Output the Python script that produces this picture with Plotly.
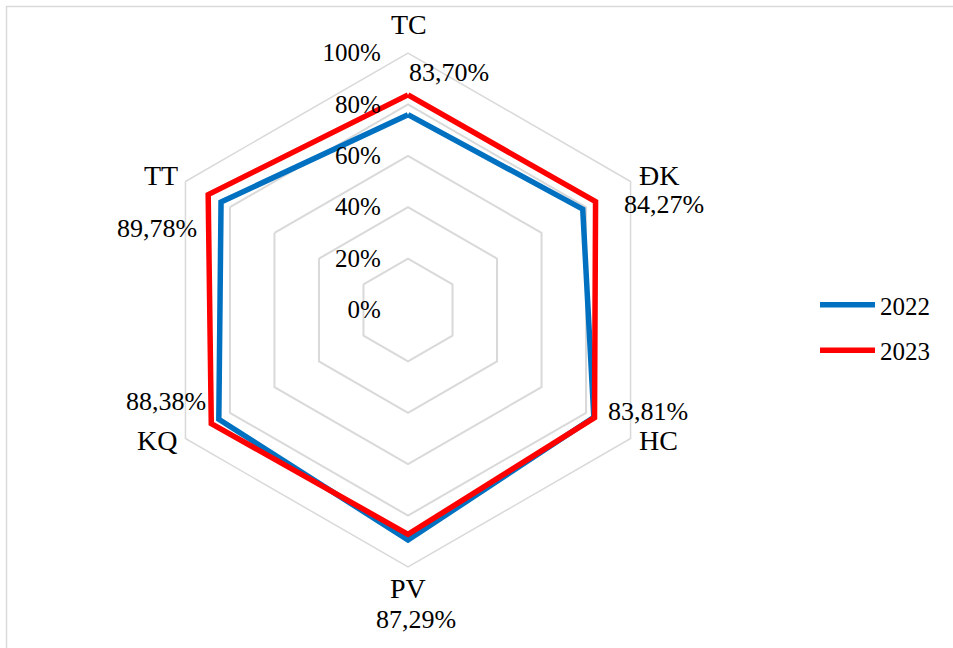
import plotly.graph_objects as go

# Criteria on the radar axes (clockwise from the top)
categories = ["TC", "ĐK", "HC", "PV", "KQ", "TT"]

# Share of the criterion reached in each year
values_2022 = [0.760, 0.785, 0.835, 0.895, 0.850, 0.840]
values_2023 = [0.8370, 0.8427, 0.8381, 0.8729, 0.8838, 0.8978]

series_names = ["2022", "2023"]
series_colors = ["#0070C0", "#FF0000"]

# Radial scale
radial_tickvals = [0, 0.2, 0.4, 0.6, 0.8, 1.0]
radial_ticktext = ["0%", "20%", "40%", "60%", "80%", "100%"]

W, H = 953, 648
FONT = "Times New Roman"
GRID = "#D9D9D9"


def px_x(x):
    return x / W


def px_y(y):
    return 1 - y / H


def pct(v):
    return f"{v * 100:.2f}%".replace(".", ",")


fig = go.Figure()
for name, vals, color in zip(series_names, [values_2022, values_2023], series_colors):
    fig.add_trace(
        go.Scatterpolar(
            r=vals + vals[:1],
            theta=categories + categories[:1],
            mode="lines",
            name=name,
            legendgroup=name,
            line=dict(color=color, width=5.5),
            hoverinfo="skip",
        )
    )

# Category names, placed just outside each spoke of the hexagon
cat_pos = {
    "TC": (409, 25),
    "ĐK": (659, 175),
    "HC": (658, 440),
    "PV": (408, 588),
    "KQ": (157, 440),
    "TT": (161, 175),
}
# Data labels for the 2023 series, set beside each criterion
label_pos = {
    "TC": (449, 73),
    "ĐK": (664, 205),
    "HC": (648, 411),
    "PV": (416, 619),
    "KQ": (166, 401),
    "TT": (157, 228),
}
annotations = []
for cat, v in zip(categories, values_2023):
    x, y = cat_pos[cat]
    annotations.append(
        dict(
            x=px_x(x), y=px_y(y), xref="paper", yref="paper",
            text=cat, showarrow=False,
            xanchor="center", yanchor="middle",
            font=dict(family=FONT, size=28, color="#000000"),
        )
    )
    x, y = label_pos[cat]
    annotations.append(
        dict(
            x=px_x(x), y=px_y(y), xref="paper", yref="paper",
            text=pct(v), showarrow=False,
            xanchor="center", yanchor="middle",
            font=dict(family=FONT, size=26, color="#000000"),
        )
    )

fig.update_layout(
    width=W,
    height=H,
    margin=dict(l=0, r=0, t=0, b=0),
    paper_bgcolor="white",
    plot_bgcolor="white",
    font=dict(family=FONT, size=25, color="#000000"),
    polar=dict(
        domain=dict(x=[px_x(151), px_x(665)], y=[px_y(567), px_y(53)]),
        bgcolor="white",
        gridshape="linear",
        angularaxis=dict(
            type="category",
            categoryorder="array",
            categoryarray=categories,
            rotation=90,
            direction="clockwise",
            showgrid=False,
            showline=True,
            linecolor=GRID,
            linewidth=1.5,
            ticks="",
            showticklabels=False,
        ),
        radialaxis=dict(
            range=[0, 1],
            angle=90,
            side="counterclockwise",
            tickvals=radial_tickvals,
            ticktext=radial_ticktext,
            showline=False,
            showgrid=True,
            gridcolor=GRID,
            gridwidth=1.5,
            ticks="outside",
            ticklen=18,
            tickcolor="rgba(0,0,0,0)",
            tickangle=90,
            tickfont=dict(family=FONT, size=25, color="#000000"),
        ),
    ),
    legend=dict(
        x=px_x(815), y=px_y(282), xanchor="left", yanchor="top",
        font=dict(family=FONT, size=25, color="#000000"),
        tracegroupgap=10,
        itemwidth=55,
        bgcolor="rgba(0,0,0,0)",
    ),
    annotations=annotations,
    shapes=[
        dict(
            type="rect", xref="paper", yref="paper",
            x0=px_x(6.5), x1=1.02, y0=-0.02, y1=px_y(6.5),
            line=dict(color=GRID, width=1.5),
            fillcolor="rgba(0,0,0,0)", layer="below",
        )
    ],
)

fig.write_html("out.html")
